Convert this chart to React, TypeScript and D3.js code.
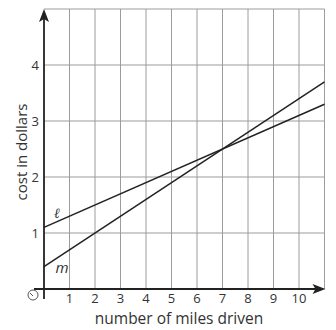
import React from "react";
import * as d3 from "d3";

const xTicks = [1, 2, 3, 4, 5, 6, 7, 8, 9, 10];
const yTicks = [1, 2, 3, 4];
const xGrid = [1, 2, 3, 4, 5, 6, 7, 8, 9, 10, 11];
const yGrid = [1, 2, 3, 4, 5];
const lineL = [
  { x: 0, y: 1.1 },
  { x: 11, y: 3.3 },
];
const lineM = [
  { x: 0, y: 0.4 },
  { x: 11, y: 3.7 },
];
const xLabel = "number of miles driven";
const yLabel = "cost in dollars";

export default function App() {
  const W = 336,
    H = 330;
  const x = d3.scaleLinear().domain([0, 11]).range([44, 324.5]);
  const y = d3.scaleLinear().domain([0, 5]).range([289, 9]);
  const line = d3
    .line<{ x: number; y: number }>()
    .x((d) => x(d.x))
    .y((d) => y(d.y));
  const font = "'Open Sans', 'Noto Sans', sans-serif";
  const axisColor = "#222";
  const gridColor = "#9c9c9c";
  return (
    <svg
      width={W}
      height={H}
      style={{ position: "absolute", left: 0, top: 0, background: "#fff" }}
      fontFamily={font}
    >
      {xGrid.map((v) => (
        <line
          key={"gx" + v}
          x1={x(v)}
          x2={x(v)}
          y1={y(0)}
          y2={y(5)}
          stroke={gridColor}
          strokeWidth={1}
        />
      ))}
      {yGrid.map((v) => (
        <line
          key={"gy" + v}
          x1={x(0)}
          x2={x(11)}
          y1={y(v)}
          y2={y(v)}
          stroke={gridColor}
          strokeWidth={1}
        />
      ))}
      {/* axes */}
      <line x1={x(0)} x2={x(0)} y1={y(0) + 10} y2={y(5) + 8} stroke={axisColor} strokeWidth={1.8} />
      <line x1={x(0) - 10} x2={x(11) - 6} y1={y(0)} y2={y(0)} stroke={axisColor} strokeWidth={1.8} />
      <path
        d={`M${x(0)},${y(5) + 0} L${x(0) - 5},${y(5) + 13} L${x(0)},${y(5) + 10} L${x(0) + 5},${y(5) + 13} Z`}
        fill={axisColor}
      />
      <path
        d={`M${x(11) + 1},${y(0)} L${x(11) - 12},${y(0) - 5} L${x(11) - 9},${y(0)} L${x(11) - 12},${y(0) + 5} Z`}
        fill={axisColor}
      />
      {/* lines */}
      <path d={line(lineL) || ""} fill="none" stroke="#222" strokeWidth={1.5} />
      <path d={line(lineM) || ""} fill="none" stroke="#222" strokeWidth={1.5} />
      <text x={57} y={218} fontSize={14} fontStyle="italic" fill="#333" textAnchor="middle" fontFamily="'DejaVu Serif', serif">
        ℓ
      </text>
      <text x={62} y={273} fontSize={15} fontStyle="italic" fill="#333" textAnchor="middle">
        m
      </text>
      {/* ticks */}
      {xTicks.map((v) => (
        <text key={"tx" + v} x={x(v)} y={303} fontSize={13} textAnchor="middle" fill="#333">
          {v}
        </text>
      ))}
      {yTicks.map((v) => (
        <text key={"ty" + v} x={39} y={y(v) + 4.5} fontSize={13} textAnchor="end" fill="#333">
          {v}
        </text>
      ))}
      {/* origin symbol */}
      <circle cx={33} cy={295} r={5} fill="none" stroke="#555" strokeWidth={1} />
      <path d="M30,293 L33,296" stroke="#555" strokeWidth={1} fill="none" />
      {/* axis titles */}
      <text x={179} y={324} fontSize={15.5} textAnchor="middle" fill="#333">
        {xLabel}
      </text>
      <text
        transform={`translate(27, 152) rotate(-90)`}
        fontSize={15}
        textAnchor="middle"
        fill="#333"
      >
        {yLabel}
      </text>
    </svg>
  );
}
